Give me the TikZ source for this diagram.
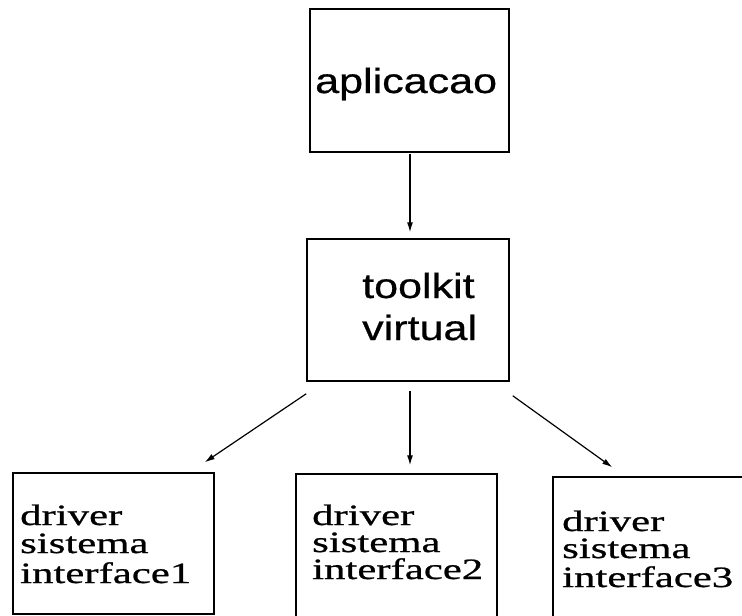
\documentclass[tikz,border=0pt]{standalone}
\usepackage{fontspec}
\newfontfamily\sfx[FakeStretch=1.23,FakeBold=0.6]{Liberation Sans}
\newfontfamily\rmx[FakeStretch=1.45,FakeBold=0.8]{Liberation Serif}
\usetikzlibrary{arrows.meta,calc}
\tikzset{
  box/.style={draw, line width=1.5pt, inner sep=0pt},
  arr/.style={line width=1.2pt, -{Latex[length=10pt,width=6pt]}},
  sftxt/.style={anchor=base west, inner sep=0pt, font=\sfx\fontsize{35}{42}\selectfont},
  rmtxt/.style={anchor=base west, inner sep=0pt, font=\rmx\fontsize{29.5}{29}\selectfont}
}
\begin{document}
\begin{tikzpicture}[x=1pt,y=-1pt]
\useasboundingbox (0,0) rectangle (742,616);
% boxes
\node[box, minimum width=199pt, minimum height=143pt] (ap) at (409.5,80.5) {};
\node[box, minimum width=202pt, minimum height=142pt] (tk) at (408,310) {};
\node[box, minimum width=201pt, minimum height=141pt] (d1) at (113.5,543.5) {};
\node[box, minimum width=201pt, minimum height=146pt] (d2) at (396.5,547) {};
\node[box, minimum width=210pt, minimum height=146pt] (d3) at (658,550) {};
% texts
\node[sftxt] (apt) at (315,93) {aplicacao};
\node[sftxt] (tkt1) at (362,298) {toolkit};
\node[sftxt] (tkt2) at (362,340) {virtual};
\node[rmtxt] (d1a) at (20,525) {driver};
\node[rmtxt] (d1b) at (20,553) {sistema};
\node[rmtxt] (d1c) at (20,583) {interface1};
\node[rmtxt] (d2a) at (312,525) {driver};
\node[rmtxt] (d2b) at (312,552) {sistema};
\node[rmtxt] (d2c) at (312,579) {interface2};
\node[rmtxt] (d3a) at (562,531) {driver};
\node[rmtxt] (d3b) at (562,558) {sistema};
\node[rmtxt] (d3c) at (562,587) {interface3};
% arrows
\draw[arr] ($(ap.south)+(0.5,1)$) -- ($(tk.north)+(2,-6)$);
\draw[arr] ($(tk.south west)+(0,12)$) -- ($(d1.north east)+(-10,-10)$);
\draw[arr] ($(tk.south)+(2,9)$) -- ($(d2.north)+(13.5,-8)$);
\draw[arr] ($(tk.south east)+(3,14)$) -- ($(d3.north west)+(60,-9)$);
\end{tikzpicture}
\end{document}
